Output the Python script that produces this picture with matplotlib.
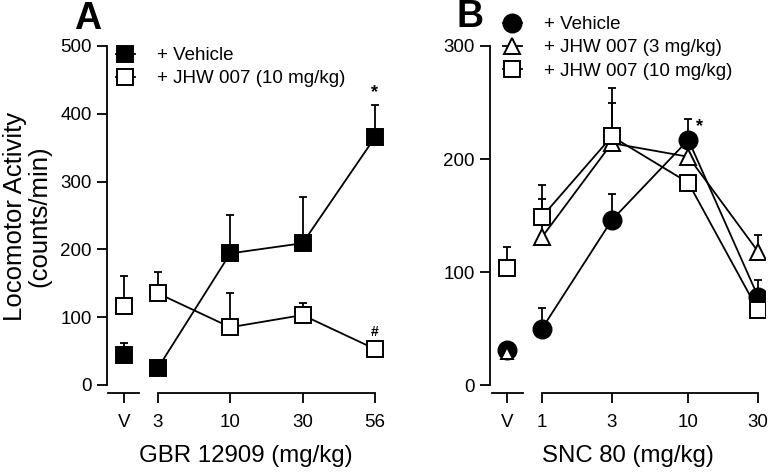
import matplotlib.pyplot as plt
import matplotlib.transforms as mtransforms
import numpy as np

plt.rcParams["font.family"] = ["Liberation Sans", "DejaVu Sans"]

# Panel A data (GBR 12909, categorical doses)
gbr_doses = ["3", "10", "30", "56"]
gbr_veh = [25, 194, 209, 365]
gbr_veh_err = [0, 57, 68, 48]
gbr_veh_v, gbr_veh_v_err = 44, 18
gbr_jhw = [135, 85, 103, 53]
gbr_jhw_err = [31, 50, 18, 0]
gbr_jhw_v, gbr_jhw_v_err = 116, 44

# Panel B data (SNC 80, log doses)
snc_doses = [1, 3, 10, 30]
snc_veh = [50, 146, 217, 78]
snc_veh_err = [18, 23, 18, 15]
snc_veh_v = 31
snc_jhw3 = [131, 214, 202, 118]
snc_jhw3_err = [34, 36, 12, 15]
snc_jhw3_v = 28
snc_jhw10 = [149, 220, 179, 66]
snc_jhw10_err = [28, 43, 0, 0]
snc_jhw10_v, snc_jhw10_v_err = 104, 18

W, H = 771, 474
fig = plt.figure(figsize=(W / 100, H / 100), dpi=100)


def px_axes(left, top, right, bottom):
    return fig.add_axes([left / W, 1 - bottom / H, (right - left) / W, (bottom - top) / H])


lw = 1.3
fs_tick = 13.5
fs_lab = 17.3
fs_leg = 13.5


def style(ax, ymax, ystep):
    for s in ["top", "right", "bottom"]:
        ax.spines[s].set_visible(False)
    ax.spines["left"].set_linewidth(lw)
    ax.spines["left"].set_bounds(0, ymax)
    ax.set_yticks(np.arange(0, ymax + 1, ystep))
    ax.tick_params(axis="both", direction="out", length=7, width=lw, labelsize=fs_tick, pad=4)
    ax.tick_params(axis="x", pad=8)


def bottom_segment(ax, x0, x1):
    tr = mtransforms.blended_transform_factory(ax.transData, ax.transAxes)
    ax.plot([x0, x1], [0, 0], color="k", lw=lw, transform=tr, clip_on=False)


def upper_err(ax, x, y, e):
    ax.errorbar(x, y, yerr=[np.zeros(len(np.atleast_1d(e))), e], fmt="none",
                ecolor="k", elinewidth=lw, capsize=3, capthick=lw, zorder=2)


# ---------------- Panel A ----------------
axA = px_axes(107, 46, 385, 393)
xa = np.arange(len(gbr_doses))
xv_a = -0.47
style(axA, 500, 100)
axA.set_ylim(-12, 500)
axA.set_xlim(-0.705, 3.14)
bottom_segment(axA, -0.69, -0.26)
bottom_segment(axA, 0, 3)
axA.set_xticks([xv_a] + list(xa))
axA.set_xticklabels(["V"] + gbr_doses)

upper_err(axA, xa, gbr_veh, gbr_veh_err)
upper_err(axA, xa, gbr_jhw, gbr_jhw_err)
upper_err(axA, [xv_a], [gbr_veh_v], [gbr_veh_v_err])
upper_err(axA, [xv_a], [gbr_jhw_v], [gbr_jhw_v_err])

sqA = dict(marker="s", ms=12, mec="k", mew=1.4, color="k", lw=lw, zorder=3)
axA.plot(xa, gbr_veh, mfc="k", label="+ Vehicle", **sqA)
axA.plot(xa, gbr_jhw, mfc="white", label="+ JHW 007 (10 mg/kg)", **sqA)
axA.plot([xv_a], [gbr_veh_v], mfc="k", **sqA)
axA.plot([xv_a], [gbr_jhw_v], mfc="white", **sqA)

axA.text(xa[3], gbr_veh[3] + gbr_veh_err[3] + 6, "*", ha="center", va="bottom",
         fontsize=13, fontweight="bold")
axA.text(xa[3], gbr_jhw[3] + 14, "#", ha="center", va="bottom", fontsize=10,
         fontweight="bold")

axA.legend(loc="upper left", bbox_to_anchor=(116 / W, 1 - 47 / H),
           bbox_transform=fig.transFigure, frameon=False, numpoints=1,
           handlelength=1, handletextpad=1.2, labelspacing=0.33, borderpad=0,
           borderaxespad=0, fontsize=fs_leg)

axA.set_xlabel("GBR 12909 (mg/kg)", fontsize=fs_lab, labelpad=10)
axA.set_ylabel("Locomotor Activity\n(counts/min)", fontsize=18.5, linespacing=1.0)
axA.yaxis.set_label_coords(-0.2, (385 - 46 - (385 - 215)) / 347 + (393 - 385) / 347)
fig.text(88 / W, 1 - 19 / H, "A", fontsize=27, fontweight="bold", ha="center", va="center")

# ---------------- Panel B ----------------
axB = px_axes(490, 46, 765, 393)
xv_b = 0.576
axB.set_xscale("log")
style(axB, 300, 100)
axB.set_ylim(-7, 300)
axB.set_xlim(0.441, 33.4)
bottom_segment(axB, 0.455, 0.742)
bottom_segment(axB, 1, 30)
axB.set_xticks([xv_b] + snc_doses)
axB.set_xticklabels(["V"] + [str(d) for d in snc_doses])
axB.xaxis.set_minor_locator(plt.NullLocator())

upper_err(axB, snc_doses, snc_veh, snc_veh_err)
upper_err(axB, snc_doses, snc_jhw3, snc_jhw3_err)
upper_err(axB, snc_doses, snc_jhw10, snc_jhw10_err)
upper_err(axB, [xv_b], [snc_jhw10_v], [snc_jhw10_v_err])

base = dict(color="k", mec="k", mew=1.4, lw=lw, zorder=3)
axB.plot(snc_doses, snc_veh, marker="o", ms=13, mfc="k", label="+ Vehicle", **base)
axB.plot(snc_doses, snc_jhw3, marker="^", ms=11, mfc="white", label="+ JHW 007 (3 mg/kg)", **base)
axB.plot(snc_doses, snc_jhw10, marker="s", ms=12, mfc="white", label="+ JHW 007 (10 mg/kg)", **base)
axB.plot([xv_b], [snc_veh_v], marker="o", ms=13, mfc="k", **base)
axB.plot([xv_b], [snc_jhw3_v], marker="^", ms=9, mfc="white", **base)
axB.plot([xv_b], [snc_jhw10_v], marker="s", ms=12, mfc="white", **base)

axB.text(snc_doses[2] * 1.13, snc_veh[2] + 4, "*", ha="left", va="bottom",
         fontsize=13, fontweight="bold")

axB.legend(loc="upper left", bbox_to_anchor=(503 / W, 1 - 16 / H),
           bbox_transform=fig.transFigure, frameon=False, numpoints=1,
           handlelength=1, handletextpad=1.2, labelspacing=0.33, borderpad=0,
           borderaxespad=0, fontsize=fs_leg)

axB.set_xlabel("SNC 80 (mg/kg)", fontsize=fs_lab, labelpad=10)
fig.text(470 / W, 1 - 17 / H, "B", fontsize=27, fontweight="bold", ha="center", va="center")

fig.savefig("out.png", dpi=100)
